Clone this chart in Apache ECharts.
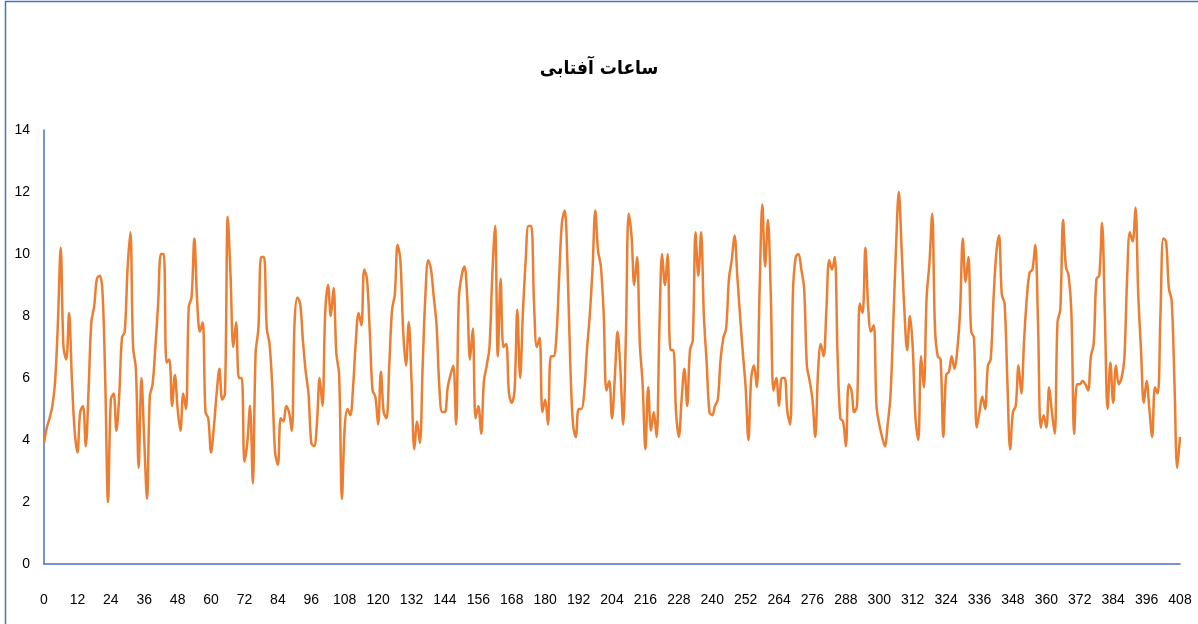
<!DOCTYPE html>
<html>
<head>
<meta charset="utf-8">
<script src="https://cdn.jsdelivr.net/npm/echarts@6/dist/echarts.min.js"></script>
<style>
  html, body { margin: 0; padding: 0; background: #ffffff; }
  #chart { width: 1198px; height: 624px; }
</style>
</head>
<body>
<div id="chart"></div>
<script>
// Chart title (Persian: sunshine hours)
const titleText = 'ساعات آفتابی';

// Monthly mean daily sunshine hours, index 0..408
const sunshineHours = [
  3.9, 4.4, 4.7, 5.1, 5.9, 7.8, 10.2, 7.0, 6.6, 8.1, 6.0, 4.3,
  3.6, 4.9, 5.1, 3.8, 5.6, 7.8, 8.3, 9.2, 9.3, 8.8, 5.9, 2.0,
  5.3, 5.5, 4.3, 5.4, 7.3, 7.5, 9.5, 10.7, 7.0, 6.3, 3.1, 6.0,
  4.0, 2.1, 5.4, 5.8, 7.0, 8.4, 10.0, 10.0, 6.5, 6.6, 5.1, 6.1,
  5.0, 4.3, 5.5, 5.0, 8.3, 8.6, 10.5, 8.5, 7.5, 7.8, 4.9, 4.7,
  3.6, 4.4, 5.5, 6.3, 5.3, 5.5, 11.2, 9.3, 7.0, 7.8, 6.0, 6.0,
  3.3, 3.9, 5.1, 2.6, 6.8, 7.6, 9.9, 9.9, 7.6, 7.1, 5.7, 3.6,
  3.2, 4.7, 4.6, 5.1, 4.9, 4.3, 7.8, 8.6, 8.4, 7.2, 6.2, 5.5,
  3.9, 3.8, 4.5, 6.0, 5.1, 8.1, 9.0, 8.0, 8.9, 6.8, 6.1, 2.1,
  4.4, 5.0, 4.8, 5.7, 7.2, 8.1, 7.7, 9.5, 9.2, 7.5, 5.6, 5.4,
  4.5, 6.2, 4.9, 4.7, 6.4, 8.2, 8.7, 10.3, 9.8, 7.5, 6.4, 7.8,
  5.9, 3.7, 4.6, 3.9, 6.4, 8.7, 9.8, 9.5, 8.6, 7.7, 5.7, 4.9,
  4.9, 5.7, 6.1, 6.4, 4.5, 8.6, 9.3, 9.6, 8.6, 6.6, 7.6, 4.7,
  5.1, 4.2, 5.9, 6.4, 7.0, 9.3, 10.9, 6.7, 9.2, 7.0, 7.1, 5.5,
  5.2, 5.6, 8.2, 6.0, 8.1, 9.8, 10.9, 10.9, 8.4, 7.0, 7.3, 4.9,
  5.3, 4.5, 6.7, 6.7, 7.3, 9.2, 11.0, 11.4, 9.7, 6.5, 4.5, 4.1,
  5.0, 5.0, 5.5, 6.9, 8.0, 9.5, 11.4, 10.1, 9.6, 8.1, 5.6, 5.9,
  4.7, 6.0, 7.5, 6.3, 4.5, 7.4, 11.3, 10.6, 9.0, 9.9, 7.1, 5.8,
  3.7, 5.7, 4.3, 4.9, 4.1, 7.5, 10.0, 9.0, 10.0, 6.9, 6.9, 4.9,
  4.1, 5.3, 6.3, 5.1, 6.9, 7.2, 10.7, 9.3, 10.7, 8.0, 6.5, 4.9,
  4.8, 5.1, 5.3, 6.6, 7.3, 7.6, 9.2, 9.8, 10.6, 9.3, 8.0, 6.8,
  5.7, 4.0, 6.0, 6.4, 5.7, 8.8, 11.6, 9.6, 11.1, 8.8, 5.6, 6.0,
  5.1, 6.0, 6.0, 4.9, 4.5, 8.8, 9.9, 10.0, 9.5, 8.9, 6.4, 5.9,
  5.3, 4.1, 6.2, 7.1, 6.7, 8.2, 9.8, 9.5, 9.9, 6.8, 4.7, 4.6,
  3.8, 5.8, 5.6, 4.9, 5.1, 8.4, 8.1, 10.2, 8.3, 7.5, 7.7, 5.1,
  4.5, 4.1, 3.8, 4.5, 5.4, 7.7, 10.2, 12.0, 10.2, 8.2, 6.9, 8.0,
  7.0, 4.7, 4.0, 6.7, 5.7, 8.6, 9.7, 11.3, 7.6, 6.7, 6.6, 4.1,
  6.1, 6.2, 6.7, 6.3, 6.9, 8.1, 10.5, 9.1, 9.9, 7.5, 7.3, 4.4,
  4.9, 5.4, 5.0, 6.4, 6.6, 8.5, 10.0, 10.6, 8.7, 8.4, 5.9, 3.7,
  4.9, 5.1, 6.4, 5.5, 7.2, 8.6, 9.4, 9.5, 10.3, 7.8, 4.4, 4.8,
  4.4, 5.7, 4.9, 4.2, 7.8, 8.2, 11.1, 9.6, 9.3, 8.1, 4.2, 5.8,
  5.8, 5.9, 5.8, 5.6, 6.7, 7.1, 9.2, 9.3, 11.0, 8.1, 5.0, 6.5,
  5.2, 6.4, 5.8, 6.0, 6.6, 9.2, 10.7, 10.4, 11.5, 8.7, 6.9, 5.2,
  5.9, 5.0, 4.1, 5.7, 5.5, 8.1, 10.5, 10.4, 8.9, 8.5, 5.9, 3.1,
  4.1
];

// Axis ranges and tick steps
const xRange = [0, 408];
const xStep = 12;
const yRange = [0, 14];
const yStep = 2;

const points = sunshineHours.map((v, i) => [i, v]);

const axisBlue = '#4472C4';
const lineOrange = '#ED7D31';

const chart = echarts.init(document.getElementById('chart'), null, { renderer: 'canvas' });

chart.setOption({
  animation: false,
  backgroundColor: '#ffffff',
  title: {
    text: titleText,
    left: 'center',
    top: 55,
    textStyle: {
      fontFamily: '"DejaVu Sans Condensed", "DejaVu Sans", sans-serif',
      fontSize: 19,
      fontWeight: 'bold',
      color: '#000000'
    }
  },
  graphic: [{
    type: 'rect',
    shape: { x: 5.5, y: 1.5, width: 1250, height: 700 },
    style: { fill: 'none', stroke: axisBlue, lineWidth: 1.5 },
    silent: true
  }],
  grid: {
    left: 44,
    right: 18,
    top: 130,
    bottom: 60,
    containLabel: false
  },
  xAxis: {
    type: 'value',
    min: xRange[0],
    max: xRange[1],
    interval: xStep,
    axisLine: { show: true, lineStyle: { color: axisBlue, width: 1.5 } },
    axisTick: { show: false },
    splitLine: { show: false },
    axisLabel: {
      margin: 29,
      fontFamily: 'Liberation Sans',
      fontSize: 14,
      color: '#000000'
    }
  },
  yAxis: {
    type: 'value',
    min: yRange[0],
    max: yRange[1],
    interval: yStep,
    axisLine: { show: true, lineStyle: { color: axisBlue, width: 1.5 } },
    axisTick: { show: false },
    splitLine: { show: false },
    axisLabel: {
      margin: 14,
      fontFamily: 'Liberation Sans',
      fontSize: 14,
      color: '#000000'
    }
  },
  series: [{
    type: 'line',
    data: points,
    smooth: 0.35,
    showSymbol: false,
    lineStyle: { color: lineOrange, width: 2.5 },
    itemStyle: { color: lineOrange }
  }]
});
</script>
</body>
</html>
